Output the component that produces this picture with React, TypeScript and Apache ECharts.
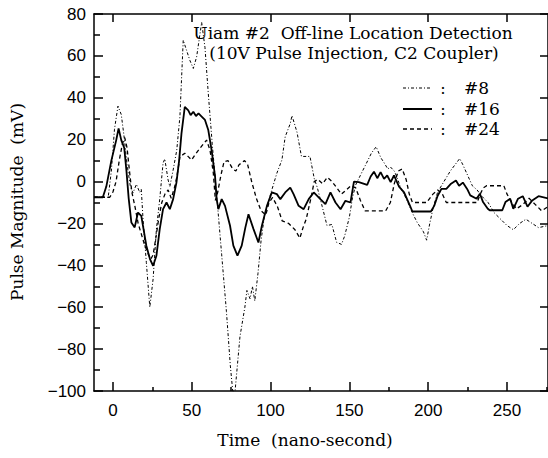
import React, { useEffect, useRef } from "react";
import * as echarts from "echarts";

// Time (ns) and magnitude (mV)
const s8X = [-12, -3, -1, 1, 3.2, 5.3, 7, 9, 11, 12.7, 14.9, 17, 18, 19.1, 21.2, 23.4, 25.5, 27.6, 29.7, 31.8, 32.9, 35, 36.1, 38.2, 40.5, 42.5, 44.6, 46.7, 48.8, 51, 53.1, 56.3, 58.4, 60.5, 63, 66, 69, 72, 74.5, 76, 77.5, 80.6, 83.7, 85, 87, 88.5, 90, 92, 94, 96, 100, 104, 107.2, 109.3, 112.5, 113.6, 116.8, 119.6, 125, 127.7, 129.7, 132.8, 135.8, 138.9, 141.9, 145, 147, 150, 152, 154, 157, 160, 164, 167, 170, 172, 174.4, 176, 178.5, 180.5, 182.5, 186, 190, 193, 197, 199, 201, 203, 206, 210, 214, 217, 220, 222, 225, 228, 231, 234, 238, 242, 246, 250, 254, 258, 262, 266, 270, 276];
const s8Y = [-7.5, -7.5, 5, 25, 36, 32, 22, 8, -2, -5.5, -1.3, -5.2, -3.7, -18, -38.6, -60, -46.5, -22.7, -8.4, 8.8, 10.8, 0.8, -2.4, 5.5, 15, 31, 67.5, 62.7, 57.9, 54, 59.5, 76, 64, 42, 18, -8, -35, -62, -88, -100, -100, -74, -60, -52, -56, -50, -57, -44, -28, -17, -6, 4, 10.3, 21.4, 27.7, 31.5, 23.5, 12, 12, 1.5, -3, -12, -21, -20.5, -29, -30, -26, -17, -7.6, -1.6, 3, 7.5, 13.6, 16.6, 11.3, 9, 6, 7, 5, 1.5, -3, -8, -15, -19.5, -24, -28, -20, -13, -5, 0, 5, 8, 11, 8, 3, -2, -4, -7, -10, -15, -18, -21, -23, -20, -18, -20, -22, -21];

const s16X = [-12, -6.4, -4.2, -1, 2.1, 3.6, 5.3, 7.2, 8.6, 10, 11.7, 13.8, 15.9, 18, 21.2, 23.5, 25.5, 27.6, 29.7, 31.8, 34, 36.1, 38.2, 40.3, 42, 43.5, 45.6, 47.8, 49.3, 51, 52.7, 54.3, 56.3, 58.4, 60.5, 62.6, 64.8, 65.8, 66.9, 69, 71.1, 74.3, 76.4, 79, 81.7, 84, 86, 89.2, 92.3, 94.5, 97.7, 100.8, 104, 106.2, 109.3, 112.5, 114.6, 117.8, 121, 124.2, 127.4, 131.6, 134.8, 138, 141.2, 144.4, 147.5, 150.7, 152.9, 156, 161.3, 163.5, 165.6, 167.7, 169.8, 172, 174, 176.2, 178.3, 181.5, 184.7, 188, 190, 201.7, 203.8, 206, 208.4, 211.5, 214.5, 217.6, 219.6, 222, 224.7, 226.7, 230.7, 232.8, 234.8, 237.8, 239, 247, 249, 252, 254, 257, 260, 263, 266, 270, 276];
const s16Y = [-7.5, -7.5, -2.4, 10, 19.8, 25.4, 19.8, 16, 5, -8, -19.5, -21.9, -14.8, -16.4, -30.6, -37, -40.2, -35.4, -22.7, -13.2, -10, -13.2, -8.4, -0.5, 10, 23, 35.7, 34, 31.7, 33.3, 31.3, 32.5, 31, 29.4, 24.6, 15, 2.4, -8.4, -13.2, -8.4, -11.6, -21.1, -30.6, -35.4, -30.6, -22, -15.6, -22.7, -29.1, -21.1, -11.6, -5.2, -6, -8.4, -5.2, -2.9, -6, -11.6, -13.2, -8.4, -5.2, -8.4, -10.8, -5.2, -10, -13.2, -9.2, -10, 0, -0.3, -1.6, 2.4, 4.7, 1.6, 4.5, 1.3, 2.9, -0.3, 2.9, -2.4, -5.2, -10.8, -14.3, -14.3, -11.6, -6.8, -3.5, -3.5, -1, 0.5, -2, -0.5, -3.5, -6.6, -8.2, -5.8, -9.8, -13, -13.7, -13.7, -9.8, -8.2, -13, -8.2, -7, -12, -9, -7, -8];

const s24X = [-12, -2, 0, 2, 4, 6, 7.5, 9, 10.5, 12, 14, 16, 18, 20, 22, 24, 25.5, 27, 29, 31, 33, 35, 37, 39, 40.5, 42.5, 45.6, 47.8, 49.9, 52, 55.2, 59.4, 61.6, 63.7, 65, 66.5, 68.5, 70.5, 73, 76, 78, 80, 83.5, 85.5, 88, 91, 94, 97, 99, 101.3, 104.4, 107.4, 111.5, 115.5, 118.6, 120.6, 122.6, 125.7, 127.7, 130, 133, 136, 139, 142, 145, 148, 151, 154, 157, 160, 173, 176, 178.5, 181, 183.5, 186, 188, 190, 199, 201, 203, 206, 209, 211.5, 231, 233, 235, 237, 248, 250, 253, 256, 260, 264, 268, 272, 276];
const s24Y = [-7.5, -7.5, -5, 0, 10, 18, 21, 16, 5, -5, -12, -20, -25, -30, -34, -37, -35, -28, -18, -10, -6, -4, -8, -3, 2, 11.8, 13.5, 11.9, 10.3, 12.7, 15.9, 19.8, 15, 4, -9, -5, 3, 9.5, 10, 6, 5, 8, 10, 8, 0, -8, -14, -16, -10, -7.6, -12, -18.8, -20, -23, -27, -22, -18, -7.6, 0, 1, -1, 2, 0, -3, -6, -4, -2, -3, -9, -14, -14, -10, -1, 5, 6, 1, -6, -10, -10, -8, -6, -4, -6, -10, -10, -6, -3, -2, -2, -6, -10, -13, -11, -8, -11, -14, -12];

const xMajorTicks = [0, 50, 100, 150, 200, 250];
const xMinorTicks = [25, 75, 125, 175, 225, 275];
const legendNames = ["#8", "#16", "#24"];
const titleLines = ["Uiam #2  Off-line Location Detection", "(10V Pulse Injection, C2 Coupler)"];
const xName = "Time  (nano-second)";
const yName = "Pulse Magnitude  (mV)";

const zip = (xs: number[], ys: number[]) => xs.map((x, i) => [x, ys[i]]);

const BLACK = "#000";
const SERIF = "DejaVu Serif";
const SANS = "Liberation Sans";

const dash8 = [3, 2, 1, 2];
const dash24 = [4, 3];

export default function App() {
  const ref = useRef<HTMLDivElement>(null);
  useEffect(() => {
    if (!ref.current) return;
    const chart = echarts.init(ref.current, undefined, { renderer: "svg" });
    const xBase = { type: "value" as const, min: -12, max: 276, splitLine: { show: false } };
    const legendYs = [88, 109, 129];
    const legendStyles = [
      { lineDash: dash8, lineWidth: 1 },
      { lineDash: null, lineWidth: 2 },
      { lineDash: dash24, lineWidth: 1.3 },
    ];
    const graphics: any[] = [];
    legendNames.forEach((n, i) => {
      graphics.push({
        type: "line",
        shape: { x1: 403, y1: legendYs[i], x2: 432, y2: legendYs[i] },
        style: { stroke: BLACK, lineWidth: legendStyles[i].lineWidth, lineDash: legendStyles[i].lineDash },
      });
      graphics.push({
        type: "text", x: 443, y: legendYs[i],
        style: { text: ":", fill: BLACK, font: `16px "${SERIF}"`, textAlign: "center", textVerticalAlign: "middle" },
      });
      graphics.push({
        type: "text", x: 464, y: legendYs[i],
        style: { text: n, fill: BLACK, font: `17px "${SERIF}"`, textAlign: "left", textVerticalAlign: "middle" },
      });
    });
    graphics.push({
      type: "text", x: 353, y: 33,
      style: { text: titleLines[0], fill: BLACK, font: `17px "${SERIF}"`, textAlign: "center", textVerticalAlign: "middle" },
    });
    graphics.push({
      type: "text", x: 354, y: 53,
      style: { text: titleLines[1], fill: BLACK, font: `17px "${SERIF}"`, textAlign: "center", textVerticalAlign: "middle" },
    });
    graphics.push({
      type: "text", x: 305, y: 440,
      style: { text: xName, fill: BLACK, font: `17px "${SERIF}"`, textAlign: "center", textVerticalAlign: "middle" },
    });
    graphics.push({
      type: "text", x: 17, y: 202, rotation: Math.PI / 2,
      style: { text: yName, fill: BLACK, font: `17px "${SERIF}"`, textAlign: "center", textVerticalAlign: "middle" },
    });

    chart.setOption({
      animation: false,
      backgroundColor: "#fff",
      grid: { left: 94, top: 14, right: 0, bottom: 67 },
      xAxis: [
        {
          ...xBase, position: "bottom",
          axisLine: { show: true, onZero: false, lineStyle: { color: BLACK, width: 1.5 } },
          axisTick: { show: true, inside: true, length: 9, customValues: xMajorTicks, lineStyle: { color: BLACK, width: 1.5 } },
          axisLabel: { show: true, customValues: xMajorTicks, color: BLACK, fontSize: 17, fontFamily: SANS, margin: 11 },
        },
        {
          ...xBase, position: "bottom",
          axisLine: { show: false, onZero: false },
          axisTick: { show: true, inside: true, length: 4, customValues: xMinorTicks, lineStyle: { color: BLACK, width: 1.5 } },
          axisLabel: { show: false },
        },
        {
          ...xBase, position: "top",
          axisLine: { show: true, onZero: false, lineStyle: { color: BLACK, width: 1.5 } },
          axisTick: { show: true, inside: true, length: 8, customValues: xMajorTicks, lineStyle: { color: BLACK, width: 1.5 } },
          axisLabel: { show: false },
        },
      ],
      yAxis: [
        {
          type: "value", min: -100, max: 80, interval: 20, position: "left",
          splitLine: { show: false },
          axisLine: { show: true, onZero: false, lineStyle: { color: BLACK, width: 1.5 } },
          axisTick: { show: true, inside: true, length: 9, lineStyle: { color: BLACK, width: 1.5 } },
          minorTick: { show: true, splitNumber: 2, length: 6, lineStyle: { color: BLACK, width: 1.5 } },
          axisLabel: {
            color: BLACK, fontSize: 17, fontFamily: SANS, margin: 8,
            formatter: (v: number) => (v < 0 ? "\u2212" + Math.abs(v) : String(v)),
          },
        },
        {
          type: "value", min: -100, max: 80, interval: 20, position: "right",
          splitLine: { show: false },
          axisLine: { show: true, onZero: false, lineStyle: { color: BLACK, width: 1.5 } },
          axisTick: { show: true, inside: true, length: 8, lineStyle: { color: BLACK, width: 1.5 } },
          axisLabel: { show: false },
        },
      ],
      series: [
        {
          name: legendNames[0], type: "line", xAxisIndex: 0, yAxisIndex: 0, data: zip(s8X, s8Y),
          showSymbol: false, symbol: "none",
          lineStyle: { color: BLACK, width: 1, type: dash8 },
        },
        {
          name: legendNames[1], type: "line", xAxisIndex: 0, yAxisIndex: 0, data: zip(s16X, s16Y),
          showSymbol: false, symbol: "none",
          lineStyle: { color: BLACK, width: 1.8, type: "solid" },
        },
        {
          name: legendNames[2], type: "line", xAxisIndex: 0, yAxisIndex: 0, data: zip(s24X, s24Y),
          showSymbol: false, symbol: "none",
          lineStyle: { color: BLACK, width: 1.3, type: dash24 },
        },
      ],
      graphic: graphics,
    });
    return () => chart.dispose();
  }, []);
  return <div ref={ref} style={{ position: "fixed", left: 0, top: 0, width: 548, height: 458, background: "#fff" }} />;
}
